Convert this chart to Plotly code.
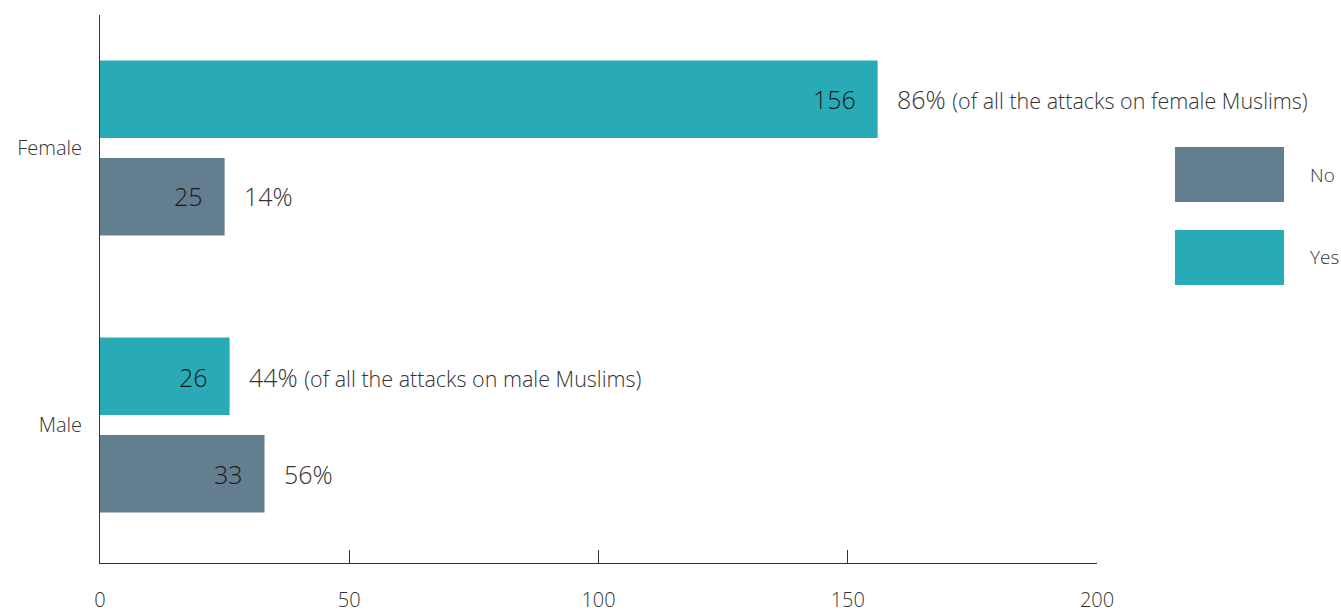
import plotly.graph_objects as go

categories = ["Male", "Female"]
no_values = [33, 25]
yes_values = [26, 156]
no_pct = ["56%", "14%"]
yes_pct = ["44%", "86%"]
yes_notes = ["(of all the attacks on male Muslims)", "(of all the attacks on female Muslims)"]
series_names = ["No", "Yes"]
tick_vals = [0, 50, 100, 150, 200]

NO_COLOR = "#637e8f"
YES_COLOR = "#29abb7"
FONT = "Open Sans"
TXT = "#333333"

fig = go.Figure()
fig.add_trace(go.Bar(y=categories, x=no_values, orientation="h", name=series_names[0],
                     marker=dict(color=NO_COLOR, line=dict(width=0)), hoverinfo="x+name"))
fig.add_trace(go.Bar(y=categories, x=yes_values, orientation="h", name=series_names[1],
                     marker=dict(color=YES_COLOR, line=dict(width=0)), hoverinfo="x+name"))

annotations = []
SHIFT = 48.5
for i, cat in enumerate(categories):
    for val, pct, note, ys in [(no_values[i], no_pct[i], "", -SHIFT),
                               (yes_values[i], yes_pct[i], yes_notes[i], SHIFT)]:
        annotations.append(dict(x=val, y=cat, xref="x", yref="y", text=str(val),
                                showarrow=False, xanchor="right", yanchor="middle",
                                xshift=-20, yshift=ys,
                                font=dict(family=FONT, size=25, color="#1a1a1a", weight=300)))
        label = pct + (" <span style='font-size:21.5px'>" + note + "</span>" if note else "")
        annotations.append(dict(x=val, y=cat, xref="x", yref="y", text=label,
                                showarrow=False, xanchor="left", yanchor="middle",
                                xshift=17, yshift=ys,
                                font=dict(family=FONT, size=25, color=TXT, weight=300)))

shapes = []
legend_rows = [(series_names[0], NO_COLOR, 0.759, 0.6588), (series_names[1], YES_COLOR, 0.6077, 0.5073)]
for name, col, y1, y0 in legend_rows:
    shapes.append(dict(type="rect", xref="paper", yref="paper", x0=1.0782, x1=1.1876,
                       y0=y0, y1=y1, fillcolor=col, line=dict(width=0)))
    annotations.append(dict(xref="paper", yref="paper", x=1.2116, y=(y0 + y1) / 2,
                            text=name, showarrow=False, xanchor="left", yanchor="middle",
                            font=dict(family=FONT, size=19, color=TXT, weight=300)))

fig.update_layout(
    width=1341, height=612,
    margin=dict(l=100, r=244, t=15, b=49, autoexpand=False),
    paper_bgcolor="white", plot_bgcolor="white",
    barmode="group", bargap=0.296, bargroupgap=0.205,
    showlegend=False,
    font=dict(family=FONT, color=TXT, size=20, weight=300),
    xaxis=dict(range=[0, 200], tickvals=tick_vals, ticks="inside", ticklen=13,
               tickcolor="#333", tickwidth=1, showline=True, linecolor="#333", linewidth=1,
               showgrid=False, zeroline=False, ticklabelstandoff=19, automargin=False,
               tickfont=dict(family=FONT, size=20, color=TXT, weight=300)),
    yaxis=dict(range=[-0.498, 1.48], showline=True, linecolor="#333", linewidth=1,
               showgrid=False, zeroline=False, ticks="", ticklabelstandoff=13, automargin=False,
               tickfont=dict(family=FONT, size=20, color=TXT, weight=300)),
    annotations=annotations, shapes=shapes,
)

fig.write_html("out.html", config={"displayModeBar": False},
               post_script="document.body.style.margin='0';document.body.style.overflow='hidden';")
